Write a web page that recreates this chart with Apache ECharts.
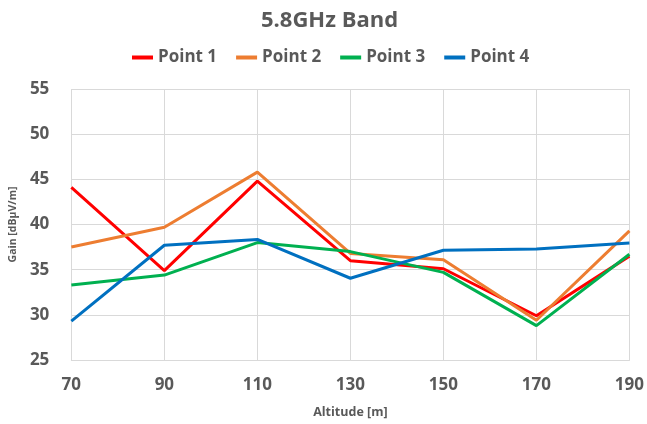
<!DOCTYPE html>
<html><head><meta charset="utf-8">
<script src="https://cdn.jsdelivr.net/npm/echarts@6/dist/echarts.min.js"></script>
<style>html,body{margin:0;padding:0;background:#fff}#c{width:647px;height:424px}</style>
</head><body><div id="c"></div>
<script>
const altitudes = ['70','90','110','130','150','170','190'];
const point1 = [44.1, 34.9, 44.8, 36.0, 35.1, 29.9, 36.5];
const point2 = [37.5, 39.7, 45.8, 36.8, 36.1, 29.4, 39.3];
const point3 = [33.3, 34.4, 38.0, 37.0, 34.7, 28.8, 36.7];
const point4 = [29.3, 37.7, 38.35, 34.05, 37.15, 37.3, 37.95];
const seriesNames = ['Point 1','Point 2','Point 3','Point 4'];
const colors = ['#ff0000','#ed7d31','#00b050','#0070c0'];
const seriesData = [point1, point2, point3, point4];
const txt = '#595959';
const ff = '"Open Sans", sans-serif';
const chart = echarts.init(document.getElementById('c'), null, {renderer:'canvas'});
chart.setOption({
  animation:false,
  color: colors,
  title:{text:'5.8GHz Band', left:256, top:5,
    textStyle:{color:txt, fontFamily:ff, fontWeight:'bold', fontSize:22}},
  legend:{top:44, left:127, icon:'rect', itemWidth:21, itemHeight:4, itemGap:19,
    textStyle:{color:txt, fontFamily:ff, fontWeight:'bold', fontSize:17},
    data: seriesNames},
  grid:{left:71, right:17, top:89, bottom:61},
  xAxis:{type:'category', data:altitudes, boundaryGap:false,
    name:'Altitude [m]', nameLocation:'middle', nameGap:46,
    nameTextStyle:{color:txt, fontFamily:ff, fontWeight:'bold', fontSize:12.5},
    axisLine:{lineStyle:{color:'#d9d9d9'}}, axisTick:{show:false},
    axisLabel:{color:txt, fontFamily:ff, fontWeight:'bold', fontSize:17, margin:17},
    splitLine:{show:true, lineStyle:{color:'#d9d9d9'}}},
  yAxis:{type:'value', min:25, max:55, interval:5,
    name:'Gain [dBμV/m]', nameLocation:'middle', nameGap:49, nameRotate:90,
    nameTextStyle:{color:txt, fontFamily:ff, fontWeight:'bold', fontSize:10.5},
    axisLine:{show:false}, axisTick:{show:false},
    axisLabel:{color:txt, fontFamily:ff, fontWeight:'bold', fontSize:17, margin:22},
    splitLine:{lineStyle:{color:'#d9d9d9'}}},
  series: seriesNames.map((n,i)=>({name:n, type:'line', data:seriesData[i],
    symbol:'none', lineStyle:{width:3, color:colors[i]}, itemStyle:{color:colors[i]}}))
});
</script></body></html>
